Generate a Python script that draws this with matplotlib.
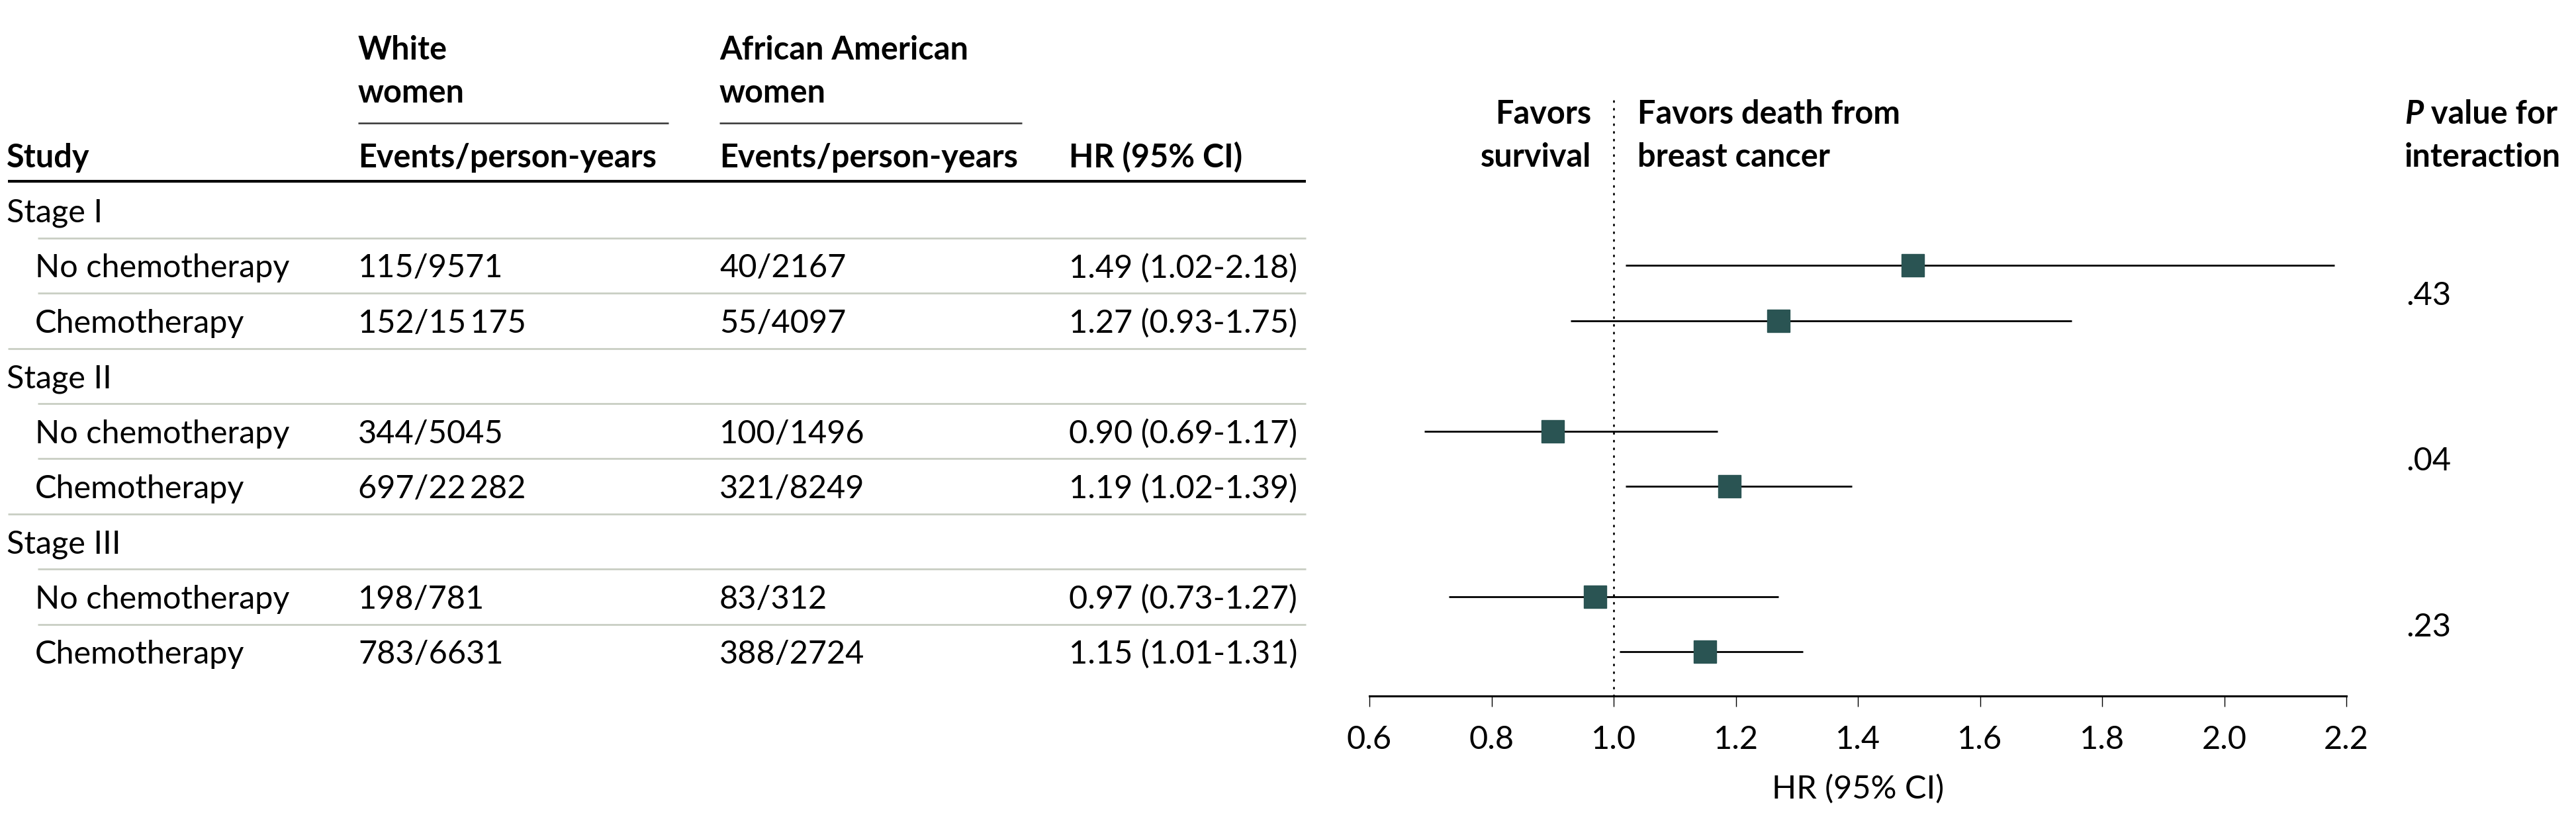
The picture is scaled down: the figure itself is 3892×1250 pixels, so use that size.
import matplotlib
matplotlib.use('Agg')
import matplotlib.pyplot as plt
from matplotlib.transforms import blended_transform_factory

plt.rcParams['font.family'] = ['Lato', 'DejaVu Sans']

# ---------------- data ----------------
row_labels = ['Stage I', 'No chemotherapy', 'Chemotherapy',
              'Stage II', 'No chemotherapy', 'Chemotherapy',
              'Stage III', 'No chemotherapy', 'Chemotherapy']
is_stage = [True, False, False, True, False, False, True, False, False]
white_events = ['', '115/9571', '152/15\u2009175', '', '344/5045', '697/22\u2009282',
                '', '198/781', '783/6631']
aa_events = ['', '40/2167', '55/4097', '', '100/1496', '321/8249',
             '', '83/312', '388/2724']
hr = [None, 1.49, 1.27, None, 0.90, 1.19, None, 0.97, 1.15]
ci_low = [None, 1.02, 0.93, None, 0.69, 1.02, None, 0.73, 1.01]
ci_high = [None, 2.18, 1.75, None, 1.17, 1.39, None, 1.27, 1.31]
p_values = ['.43', '.04', '.23']
p_rows = [1.5, 4.5, 7.5]
xticks = [0.6, 0.8, 1.0, 1.2, 1.4, 1.6, 1.8, 2.0, 2.2]
xtick_labels = ['0.6', '0.8', '1.0', '1.2', '1.4', '1.6', '1.8', '2.0', '2.2']

# ---------------- layout (pixels) ----------------
W, H = 3892, 1250
FS = 35
ROW0, ROWH = 318.0, 83.4
TOP_PX, BOT_PX = 148, 1052
AX_L, AX_R = 2069, 3545
TAB_W = 2000
BASE_OFF = 18 / ROWH
MARKER_C = '#2a5453'
GRAY = '#c9cec3'


def yi(px):
    return (px - ROW0) / ROWH


fig = plt.figure(figsize=(W / 100, H / 100), dpi=100)
fig.patch.set_facecolor('white')

bottom = (H - BOT_PX) / H
height = (BOT_PX - TOP_PX) / H
ylim = (yi(BOT_PX), yi(TOP_PX))

# ---------- table axes ----------
axt = fig.add_axes([0, bottom, TAB_W / W, height])
axt.set_xlim(0, TAB_W)
axt.set_ylim(*ylim)
axt.axis('off')

col_x = [541, 1087, 1615]
hdr_kw = dict(fontsize=FS, fontweight='bold', va='baseline', ha='left', clip_on=False)
axt.text(10, yi(253), 'Study', **hdr_kw)
axt.text(col_x[0], yi(90), 'White', **hdr_kw)
axt.text(col_x[0], yi(155), 'women', **hdr_kw)
axt.text(col_x[1], yi(90), 'African American', **hdr_kw)
axt.text(col_x[1], yi(155), 'women', **hdr_kw)
axt.text(col_x[0], yi(253), 'Events/person-years', **hdr_kw)
axt.text(col_x[1], yi(253), 'Events/person-years', **hdr_kw)
axt.text(col_x[2], yi(253), 'HR (95% CI)', **hdr_kw)

axt.plot([541, 1010], [yi(186), yi(186)], color='#333333', lw=1.8, clip_on=False,
         solid_capstyle='butt')
axt.plot([1087, 1544], [yi(186), yi(186)], color='#333333', lw=1.8, clip_on=False,
         solid_capstyle='butt')
axt.plot([12, 1973], [yi(274), yi(274)], color='black', lw=3.0, clip_on=False,
         solid_capstyle='butt')

txt_kw = dict(fontsize=FS, va='baseline', ha='left', clip_on=False)
n = len(row_labels)
for i in range(n):
    yb = i + BASE_OFF
    axt.text(10 if is_stage[i] else 53, yb, row_labels[i], **txt_kw)
    if not is_stage[i]:
        axt.text(col_x[0], yb, white_events[i], **txt_kw)
        axt.text(col_x[1], yb, aa_events[i], **txt_kw)
        axt.text(col_x[2], yb, f'{hr[i]:.2f} ({ci_low[i]:.2f}-{ci_high[i]:.2f})', **txt_kw)
    if i < n - 1:
        full = (i + 1 < n) and is_stage[i + 1]
        x0 = 12 if full else 57
        axt.plot([x0, 1973], [i + 0.5, i + 0.5], color=GRAY, lw=2.0, clip_on=False,
                 solid_capstyle='butt')

# ---------- forest axes ----------
ax = fig.add_axes([AX_L / W, bottom, (AX_R - AX_L) / W, height])
ax.set_xlim(xticks[0], xticks[-1])
ax.set_ylim(*ylim)
for s in ['top', 'left', 'right']:
    ax.spines[s].set_visible(False)
ax.spines['bottom'].set_linewidth(2.2)
ax.set_yticks([])
ax.set_xticks(xticks)
ax.set_xticklabels(xtick_labels)
ax.tick_params(axis='x', direction='out', length=11.5, width=1.0, pad=20,
               labelsize=FS)
ax.set_xlabel('HR (95% CI)', fontsize=FS, labelpad=22)
ax.patch.set_alpha(0)

ax.axvline(1.0, color='black', lw=2.0, linestyle=(0, (0.5, 3.7)),
           dash_capstyle='round', zorder=1)

for i in range(n):
    if hr[i] is None:
        continue
    ax.plot([ci_low[i], ci_high[i]], [i, i], color='black', lw=2.0,
            solid_capstyle='butt', zorder=2)
    ax.plot([hr[i]], [i], marker='s', markersize=24, color=MARKER_C,
            markeredgecolor=MARKER_C, linestyle='none', zorder=3)

# Favors annotations
fav_kw = dict(fontsize=FS, fontweight='bold', va='baseline', xycoords='data',
              textcoords='offset pixels', annotation_clip=False)
ax.annotate('Favors', xy=(1.0, yi(187)), xytext=(-34, 0), ha='right', **fav_kw)
ax.annotate('survival', xy=(1.0, yi(252)), xytext=(-34, 0), ha='right', **fav_kw)
ax.annotate('Favors death from', xy=(1.0, yi(187)), xytext=(36, 0), ha='left', **fav_kw)
ax.annotate('breast cancer', xy=(1.0, yi(252)), xytext=(36, 0), ha='left', **fav_kw)

# P value column
trans = blended_transform_factory(ax.transAxes, ax.transData)
px_x = (3633 - AX_L) / (AX_R - AX_L)
tP = ax.text(px_x, yi(187), 'P', fontsize=FS, fontweight='bold', fontstyle='italic',
             va='baseline', ha='left', transform=trans, clip_on=False)
fig.canvas.draw()
r = fig.canvas.get_renderer()
bb = tP.get_window_extent(r)
ax.text(bb.x1, ax.transData.transform((1.0, yi(187)))[1], ' value for', fontsize=FS,
        fontweight='bold', va='baseline', ha='left', transform=None, clip_on=False)
ax.text(px_x, yi(252), 'interaction', fontsize=FS, fontweight='bold',
        va='baseline', ha='left', transform=trans, clip_on=False)
for pv, pr in zip(p_values, p_rows):
    ax.text((3635 - AX_L) / (AX_R - AX_L), pr + BASE_OFF, pv, fontsize=FS,
            va='baseline', ha='left', transform=trans, clip_on=False)

fig.savefig('out.png', dpi=100, facecolor='white')
